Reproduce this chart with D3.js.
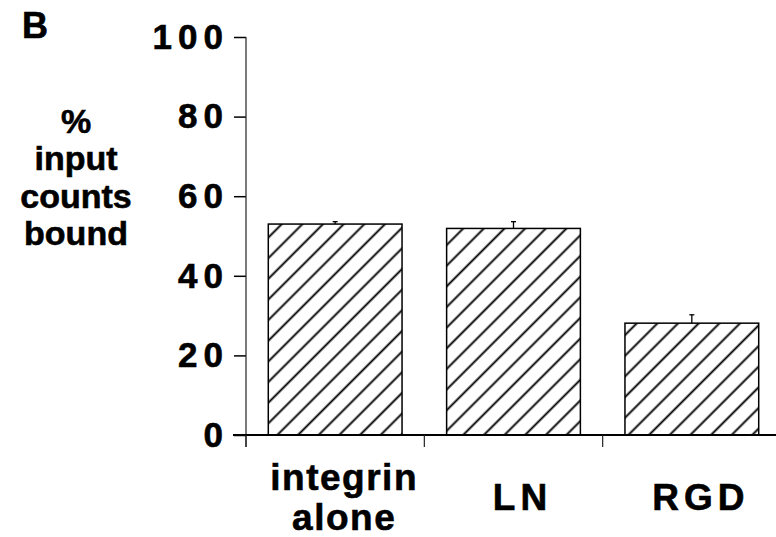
<!DOCTYPE html>
<html>
<head>
<meta charset="utf-8">
<script src="https://cdn.jsdelivr.net/npm/d3@7"></script>
<style>
  html, body { margin: 0; padding: 0; background: #fff; }
  svg { display: block; }
  text { font-family: "Liberation Sans", Arial, Helvetica, sans-serif; font-weight: bold; fill: #000; }
</style>
</head>
<body>
<svg id="chart" width="776" height="537"></svg>
<script>
// Binding of labelled integrin, as % of input counts
const categories = ["integrin alone", "LN", "RGD"];
const values = [53.0, 51.9, 28.1];
const errors = [0.6, 1.7, 2.1];
const yTicks = [0, 20, 40, 60, 80, 100];
const yTitle = ["%", "input", "counts", "bound"];
const panelLetter = "B";

const svg = d3.select("#chart");
const W = 776, H = 537;
svg.append("rect").attr("width", W).attr("height", H).attr("fill", "#fff");

// diagonal hatch for the bars
const defs = svg.append("defs");
const pat = defs.append("pattern")
  .attr("id", "hatch")
  .attr("patternUnits", "userSpaceOnUse")
  .attr("width", 14.6).attr("height", 14.6)
  .attr("patternTransform", "rotate(45)");
pat.append("rect").attr("width", 14.6).attr("height", 14.6).attr("fill", "#fff");
pat.append("line")
  .attr("x1", 7.3).attr("y1", -1).attr("x2", 7.3).attr("y2", 15.6)
  .attr("stroke", "#000").attr("stroke-width", 1.9);

const x = d3.scaleBand()
  .domain(categories)
  .range([246, 781])
  .paddingInner(0.25)
  .paddingOuter(0.125);

const y = d3.scaleLinear().domain([0, 100]).range([435, 37]);

// y axis
const yAxis = svg.append("g")
  .attr("transform", `translate(${x.range()[0]},0)`)
  .call(d3.axisLeft(y).tickValues(yTicks).tickSize(12).tickSizeOuter(0).tickPadding(5));
yAxis.select(".domain").remove();
yAxis.selectAll(".tick line").attr("stroke", "#000").attr("stroke-width", 1.5);
yAxis.selectAll(".tick text")
  .style("font-size", "35px")
  .style("letter-spacing", "6px")
  .attr("stroke", "#000").attr("stroke-width", 0.6)
  .attr("fill", "#000");
yAxis.attr("font-family", null).attr("font-size", null);

// y axis spine, carried down past the baseline
svg.append("line")
  .attr("x1", x.range()[0]).attr("x2", x.range()[0])
  .attr("y1", y(100)).attr("y2", y(0) + 12)
  .attr("stroke", "#222").attr("stroke-width", 1.2);

// bars
const data = categories.map((c, i) => ({ c, v: values[i], e: errors[i] }));
svg.append("g").selectAll("rect")
  .data(data).join("rect")
  .attr("x", d => x(d.c))
  .attr("width", x.bandwidth())
  .attr("y", d => y(d.v))
  .attr("height", d => y(0) - y(d.v))
  .attr("fill", "url(#hatch)")
  .attr("stroke", "#000")
  .attr("stroke-width", 1.5);

// upper error bars
const eb = svg.append("g").attr("stroke", "#000").attr("stroke-width", 1.3);
eb.selectAll("line.v").data(data).join("line").attr("class", "v")
  .attr("x1", d => x(d.c) + x.bandwidth() / 2)
  .attr("x2", d => x(d.c) + x.bandwidth() / 2)
  .attr("y1", d => y(d.v))
  .attr("y2", d => y(d.v + d.e));
eb.selectAll("line.cap").data(data).join("line").attr("class", "cap")
  .attr("x1", d => x(d.c) + x.bandwidth() / 2 - 2.5)
  .attr("x2", d => x(d.c) + x.bandwidth() / 2 + 2.5)
  .attr("y1", d => y(d.v + d.e))
  .attr("y2", d => y(d.v + d.e));

// x axis baseline
svg.append("line")
  .attr("x1", x.range()[0] - 13).attr("x2", W)
  .attr("y1", y(0)).attr("y2", y(0))
  .attr("stroke", "#000").attr("stroke-width", 2);

// category boundary ticks below the baseline
svg.append("g").selectAll("line")
  .data(categories).join("line")
  .attr("x1", d => x(d) - x.paddingOuter() * x.step())
  .attr("x2", d => x(d) - x.paddingOuter() * x.step())
  .attr("y1", y(0)).attr("y2", y(0) + 12)
  .attr("stroke", "#222").attr("stroke-width", 1.2);

// category labels
const lab = svg.append("g");
categories.forEach(c => {
  const words = c.split(" ");
  const cx = x(c) + x.bandwidth() / 2 + 9;
  const t = lab.append("text")
    .attr("text-anchor", "middle")
    .style("font-size", "37px")
    .style("letter-spacing", words.length > 1 ? "1.5px" : "5px")
    .attr("stroke", "#000").attr("stroke-width", 0.6);
  if (words.length > 1) {
    words.forEach((w, i) => {
      t.append("tspan").attr("x", cx).attr("y", 490 + i * 40).text(w);
    });
  } else {
    t.attr("x", cx).attr("y", 510).text(c);
  }
});

// y title
const yt = svg.append("text")
  .attr("text-anchor", "middle")
  .style("font-size", "34px")
  .attr("stroke", "#000").attr("stroke-width", 0.6);
yTitle.forEach((w, i) => {
  yt.append("tspan").attr("x", 76).attr("y", 133 + i * 37.3).text(w);
});

// panel letter
svg.append("text")
  .attr("x", 22).attr("y", 38)
  .style("font-size", "36px")
  .attr("stroke", "#000").attr("stroke-width", 0.6)
  .text(panelLetter);
</script>
</body>
</html>
